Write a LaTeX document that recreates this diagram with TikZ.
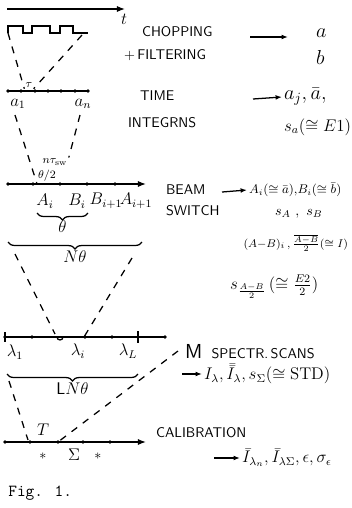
\documentclass[tikz,border=0pt]{standalone}
\usepackage{amsmath}
\usetikzlibrary{arrows.meta, positioning, decorations.pathreplacing, calc}

\begin{document}
\begin{tikzpicture}[
        x=0.025cm, y=-0.025cm,
        line width=0.9pt,
        timeaxis/.style={
            -{Latex[length=2mm]}
        },
        plainaxis/.style={
        },
        guide/.style={
            dash pattern=on 5pt off 5pt
        },
        stage/.style={
            font=\sffamily,
            anchor=west,
            inner sep=1pt
        },
        result/.style={
            anchor=west,
            inner sep=1pt
        },
        leadarrow/.style={
            -{Latex[length=1.6mm]}
        },
        underbrace/.style={
            decorate,
            decoration={brace, mirror, amplitude=5pt}
        },
        small/.style={
            font=\footnotesize,
            inner sep=0.5pt
        }
    ]

        \useasboundingbox (0,0) rectangle (352,508);

        % ---------------------------------------------------------------------
        % Chopping: time axis and square wave
        % ---------------------------------------------------------------------

        \draw[timeaxis] (7,9) coordinate (t0) -- (125,9) coordinate (t1);
        \node[small, font=\large] (tlabel) at (124,19) {$t$};

        \draw (8,33) coordinate (wave0)
            -- (8,26) -- (23,26) -- (23,33) -- (32,33) -- (32,26)
            -- (50,26) -- (50,33) -- (60,33) -- (60,26) -- (73,26)
            -- (73,33) -- (88,33) coordinate (wave1);
        \coordinate (wave2) at (82,35);

        % ---------------------------------------------------------------------
        % Time integrations
        % ---------------------------------------------------------------------

        \draw[plainaxis] (8,91) coordinate (int0) -- (88,91) coordinate (int1);
        \foreach \x in {8,21,35,48,61,75,88}
            \fill (\x,91) circle (1.3pt);

        \node[small] (tau) at (29,85) {$\tau$};
        \node[font=\large] (aone) at (18,104) {$a_1$};
        \node[font=\large] (an) at (83,104) {$a_n$};

        \draw[guide] (wave0) -- (tau.south west);
        \draw[guide] (wave2) -- (tau.south east);

        % ---------------------------------------------------------------------
        % Beam switch
        % ---------------------------------------------------------------------

        \draw[timeaxis] (8,184) coordinate (sw0) -- (146,184) coordinate (sw1);
        \foreach \x in {8,33,60,87,115}
            \fill (\x,184) circle (1.3pt);

        \node[small] (nsw) at (55,162) {$n\tau_{\mathrm{sw}}$};
        \node[small] (half) at (47,176) {$\theta/2$};

        \coordinate (guideA) at (15,115);
        \coordinate (guideB) at (80,115);
        \draw[guide] (guideA) -- (half.south west);
        \draw[guide] (guideB) -- (nsw.north east);

        \node[font=\large] (Ai) at (45,201) {$A_i$};
        \node[font=\large] (Bi) at (77,201) {$B_i$};
        \node[font=\large] (Bnext) at (106,201) {$B_{i+1}$};
        \node[font=\large] (Anext) at (136,201) {$A_{i+1}$};

        \draw[underbrace] (37,213) -- (88,213)
            node[midway, below=5pt, inner sep=0pt, font=\large] (theta) {$\theta$};
        \draw[underbrace] (8,242) -- (142,242)
            node[midway, below=6pt, inner sep=0pt, font=\large] (Ntheta) {$N\theta$};

        % ---------------------------------------------------------------------
        % Spectral scans
        % ---------------------------------------------------------------------

        \draw[plainaxis] (5,337) coordinate (sc0) -- (165,337) coordinate (sc1);
        \foreach \x in {5,32,85,112,138,165}
            \fill (\x,337) circle (1.3pt);
        \draw (5,332) -- (5,342);
        \draw (138,331) -- (138,343);
        \draw (57,337) arc (180:0:3);

        \coordinate (guideC) at (15,254);
        \coordinate (guideD) at (132,258);
        \coordinate (guideE) at (55,334);
        \coordinate (guideF) at (84,337);
        \draw[guide] (guideC) -- (guideE);
        \draw[guide] (guideD) -- (guideF);

        \node[font=\large] (lone) at (15,352) {$\lambda_1$};
        \node[font=\large] (li) at (78,351) {$\lambda_i$};
        \node[font=\large] (lL) at (128,351) {$\lambda_L$};

        \draw[underbrace] (7,374) -- (138,374)
            node[midway, below=6pt, inner sep=0pt, font=\large] (LNtheta) {\sffamily L$N\theta$};

        % ---------------------------------------------------------------------
        % Calibration
        % ---------------------------------------------------------------------

        \draw[timeaxis] (5,442) coordinate (cal0) -- (146,442) coordinate (cal1);
        \foreach \x in {5,30,58,83,110}
            \fill (\x,442) circle (1.3pt);

        \node[font=\large] (T) at (43,430) {$T$};
        \node (starA) at (43,456) {$*$};
        \node[font=\large] (Sigma) at (74,455) {$\Sigma$};
        \node (starB) at (98,456) {$*$};

        \coordinate (guideG) at (9,381);
        \coordinate (guideH) at (28,440);
        \coordinate (guideI) at (178,351);
        \coordinate (guideJ) at (58,442);
        \draw[guide] (guideG) -- (guideH);
        \draw[guide] (guideI) -- (guideJ);

        \node[font=\ttfamily\large, anchor=west] (fig) at (3,493) {Fig. 1.};

        % ---------------------------------------------------------------------
        % Stage names and what each stage yields
        % ---------------------------------------------------------------------

        \node[stage] (chop) at (140,32) {CHOPPING};
        \node[stage] (filt) at (122,55) {+\,FILTERING};
        \node[result, font=\Large] (resa) at (314,33) {$a$};
        \node[result, font=\Large] (resb) at (314,57) {$b$};
        \draw[leadarrow] (250,37) coordinate (la0) -- (288,37) coordinate (la1);

        \node[stage] (time) at (138,96) {TIME};
        \node[stage] (integ) at (126,123) {INTEGRNS};
        \node[result, font=\Large] (resaj) at (282,97) {$a_j, \bar{a},$};
        \node[result, font=\large] (ressa) at (282,127) {$s_a(\cong E1)$};
        \draw[leadarrow] (253,99) coordinate (lb0) -- (resaj.west);

        \node[stage] (beam) at (164,190) {BEAM};
        \node[stage] (switch) at (164,211) {SWITCH};
        \node[result, font=\small] (resAB) at (247,190) {$A_i(\cong\bar{a}),\!B_i(\cong\bar{b})$};
        \node[result] (ressAB) at (273,214) {$s_A\ ,\ s_B$};
        \node[result, font=\footnotesize, anchor=east] (resdiff) at (350,243) {$(A{-}B)_i\,,\tfrac{\overline{A-B}}{2}(\cong I)$};
        \node[result, font=\large] (ressdiff) at (228,287) {$s_{\frac{A-B}{2}}\,(\cong \tfrac{E2}{2})$};
        \draw[leadarrow] (222,192) coordinate (lc0) -- (resAB.west);

        \node[stage] (scans) at (183,352) {{\Large M}\ \ SPECTR.\,SCANS};
        \node[result, font=\large] (resI) at (202,374) {$I_\lambda, \bar{\bar{I}}_\lambda, s_\Sigma(\cong \mathrm{STD})$};
        \draw[leadarrow] (182,374) coordinate (ld0) -- (resI.west);

        \node[stage] (calib) at (154,433) {CALIBRATION};
        \node[result, font=\large] (resIcal) at (240,458) {$\bar{I}_{\lambda_n}, \bar{I}_{\lambda\Sigma}, \epsilon, \sigma_\epsilon$};
        \draw[leadarrow] (214,458) coordinate (le0) -- (resIcal.west);

    \end{tikzpicture}
\end{document}
